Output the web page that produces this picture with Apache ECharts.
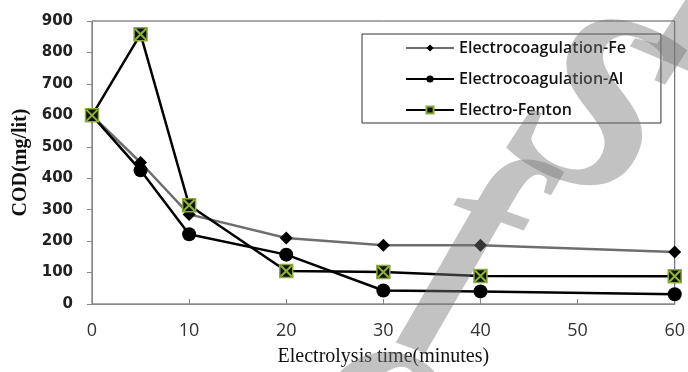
<!DOCTYPE html>
<html>
<head>
<meta charset="utf-8">
<script src="https://cdn.jsdelivr.net/npm/echarts@6/dist/echarts.min.js"></script>
<style>html,body{margin:0;padding:0;background:#fff;}#c{width:688px;height:372px;}</style>
</head>
<body>
<div id="c"></div>
<script>
const times = [0, 5, 10, 20, 30, 40, 60];
const feValues = [600, 450, 285, 210, 187, 187, 165];
const alValues = [600, 425, 222, 157, 43, 40, 31];
const fentonValues = [600, 858, 314, 105, 102, 89, 88];
const seriesNames = ['Electrocoagulation-Fe', 'Electrocoagulation-Al', 'Electro-Fenton'];
const yTicks = [0, 100, 200, 300, 400, 500, 600, 700, 800, 900];
const xTicks = [0, 10, 20, 30, 40, 50, 60];
const xTitle = 'Electrolysis time(minutes)';
const yTitle = 'COD(mg/lit)';
const watermarkLetters = ['o', 'f', 'S', 'I'];

function pairs(vals) { return times.map((t, i) => [t, vals[i]]); }

const wmFill = 'rgba(120,120,120,0.45)';
function wm(text, x, y, rot, size) {
  return {type: 'text', x: x, y: y, rotation: rot, z: 100, silent: true,
    style: {text: text, font: 'italic bold ' + size + 'px "Liberation Serif"', fill: wmFill, textAlign: 'center', textVerticalAlign: 'middle'}};
}

const chart = echarts.init(document.getElementById('c'), null, {renderer: 'canvas'});
const option = {
  animation: false,
  backgroundColor: '#fff',
  grid: {left: 92, right: 9, top: 21, bottom: 62, show: true, borderColor: '#555', borderWidth: 1, backgroundColor: 'transparent'},
  legend: {
    data: seriesNames,
    orient: 'vertical',
    left: 362, top: 34,
    padding: [6, 35, 5, 43],
    itemGap: 15,
    itemWidth: 48, itemHeight: 9,
    backgroundColor: '#fff',
    borderColor: '#333', borderWidth: 1,
    textStyle: {fontFamily: 'Open Sans', fontSize: 16, fontWeight: 600, color: '#111', lineHeight: 15}
  },
  xAxis: {
    type: 'value', min: xTicks[0], max: xTicks[xTicks.length - 1], interval: 10,
    name: xTitle, nameLocation: 'middle', nameGap: 43,
    nameTextStyle: {fontFamily: 'Liberation Serif', fontSize: 20, color: '#111'},
    axisLine: {lineStyle: {color: '#888', width: 1}},
    axisTick: {inside: true, length: 5, lineStyle: {color: '#888'}},
    axisLabel: {margin: 18, fontFamily: 'Open Sans', fontSize: 18, color: '#333'},
    splitLine: {show: false}
  },
  yAxis: {
    type: 'value', min: yTicks[0], max: yTicks[yTicks.length - 1], interval: 100,
    name: yTitle, nameLocation: 'middle', nameGap: 58, nameRotate: 90,
    nameTextStyle: {fontFamily: 'Liberation Serif', fontSize: 20, fontWeight: 'bold', color: '#111'},
    axisLine: {show: true, lineStyle: {color: '#888', width: 1}},
    axisTick: {show: true, length: 5, lineStyle: {color: '#888'}},
    axisLabel: {margin: 19, fontFamily: 'DejaVu Sans', fontWeight: 'bold', fontSize: 15, color: '#222'},
    splitLine: {show: false}
  },
  series: [
    {
      name: seriesNames[0], type: 'line', data: pairs(feValues),
      symbol: 'diamond', symbolSize: 13,
      lineStyle: {color: '#6e6e6e', width: 2.5},
      itemStyle: {color: '#000'}, z: 2
    },
    {
      name: seriesNames[1], type: 'line', data: pairs(alValues),
      symbol: 'circle', symbolSize: 14,
      lineStyle: {color: '#000', width: 2.5},
      itemStyle: {color: '#000'}, z: 3
    },
    {
      name: seriesNames[2], type: 'line', data: pairs(fentonValues),
      symbol: 'rect', symbolSize: 13,
      lineStyle: {color: '#000', width: 2.5},
      itemStyle: {color: '#111', borderColor: '#8aac3c', borderWidth: 1.5}, z: 4
    },
    {
      name: 'fenton-x', type: 'line', data: pairs(fentonValues),
      symbol: 'path://M0,0L10,10M10,0L0,10', symbolSize: 11,
      lineStyle: {width: 0, opacity: 0},
      itemStyle: {color: 'none', borderColor: '#8db33a', borderWidth: 2},
      silent: true, z: 5
    }
  ],
  graphic: [
    wm(watermarkLetters[0], 385, 405, -0.4, 260),
    wm(watermarkLetters[1], 472, 250, -0.35, 240),
    wm(watermarkLetters[2], 592, 118, -0.4, 260),
    wm(watermarkLetters[3], 705, 5, -0.4, 260)
  ]
};
chart.setOption(option);
</script>
</body>
</html>
